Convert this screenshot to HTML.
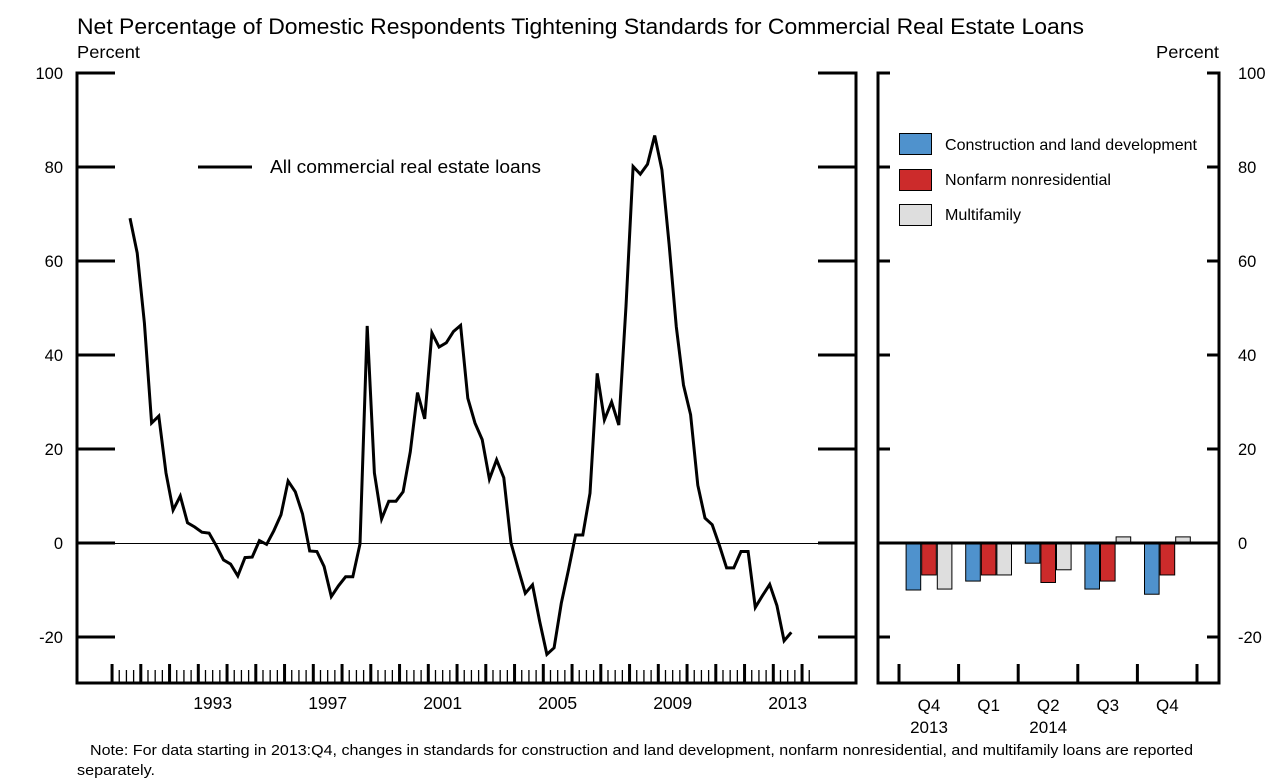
<!DOCTYPE html>
<html><head><meta charset="utf-8"><style>
body{margin:0;background:#fff;}
svg text{font-family:"Liberation Sans",Arial,sans-serif;fill:#000;}
</style></head><body>
<svg id="chart" width="1274" height="779" viewBox="0 0 1274 779" xmlns="http://www.w3.org/2000/svg">
<text x="77" y="34" font-size="22" textLength="1007" lengthAdjust="spacingAndGlyphs">Net Percentage of Domestic Respondents Tightening Standards for Commercial Real Estate Loans</text>
<text x="77" y="58" font-size="17.5" textLength="63" lengthAdjust="spacingAndGlyphs">Percent</text>
<text x="1156" y="58" font-size="17.5" textLength="63" lengthAdjust="spacingAndGlyphs">Percent</text>
<g id="axes"></g>
<g id="line-layer"></g>
<g id="bar-layer"></g>
<g>
<line x1="198" y1="167" x2="252" y2="167" stroke="#000" stroke-width="3"/>
<text x="270" y="173" font-size="18.5" textLength="271" lengthAdjust="spacingAndGlyphs">All commercial real estate loans</text>
</g>
<g>
<rect x="899.5" y="133.5" width="32" height="21" fill="#4F92CD" stroke="#000" stroke-width="1"/>
<text x="945" y="150" font-size="16" textLength="252" lengthAdjust="spacingAndGlyphs">Construction and land development</text>
<rect x="899.5" y="169.5" width="32" height="21" fill="#CC2B2B" stroke="#000" stroke-width="1"/>
<text x="945" y="185" font-size="16" textLength="166" lengthAdjust="spacingAndGlyphs">Nonfarm nonresidential</text>
<rect x="899.5" y="204.5" width="32" height="21" fill="#DEDEDE" stroke="#000" stroke-width="1"/>
<text x="945" y="220" font-size="16" textLength="76" lengthAdjust="spacingAndGlyphs">Multifamily</text>
</g>
<text font-size="15"><tspan x="90" y="755" textLength="1103" lengthAdjust="spacingAndGlyphs">Note: For data starting in 2013:Q4, changes in standards for construction and land development, nonfarm nonresidential, and multifamily loans are reported</tspan><tspan x="77" y="775" textLength="78" lengthAdjust="spacingAndGlyphs">separately.</tspan></text>
</svg>
<script>
const lineValues = [69.1,61.7,46.8,25.5,27,14.9,7,10,4.3,3.4,2.3,2.1,-0.6,-3.6,-4.5,-7,-3.1,-3,0.5,-0.3,2.6,6,13.2,10.9,6.2,-1.7,-1.8,-5,-11.4,-9.1,-7.2,-7.2,-0.2,46.2,14.9,
5.1,8.9,8.9,10.9,19.4,32,26.4,44.7,41.7,42.6,45,46.3,30.8,25.5,22,13.6,17.7,13.9,0,-5.4,-10.7,-8.9,-16.7,-23.7,-22.3,-12.8,-5.7,1.7,1.7,10.6,
36.1,26.2,30,25.1,50.4,80.1,78.5,80.6,86.7,79.4,63.6,46,33.6,27.3,12.3,5.3,3.9,-0.5,-5.3,-5.3,-1.8,-1.8,-13.7,-11.2,-8.8,-13.3,-20.8,-19];
const lineStartYear = 1990, lineStartQuarter = 3;
const yearLabels = [1993,1997,2001,2005,2009,2013];
const yTicks = [-20,0,20,40,60,80,100];
const barCategories = ["Q4","Q1","Q2","Q3","Q4"];
const barYearLabels = [["2013",0],["2014",2]];
const constructionValues = [-10,-8.1,-4.3,-9.8,-10.9];
const nonfarmValues = [-6.8,-6.8,-8.4,-8.1,-6.8];
const multifamilyValues = [-9.8,-6.8,-5.7,1.3,1.3];

const NS="http://www.w3.org/2000/svg";
function mk(tag, attrs, parent){const e=document.createElementNS(NS,tag);for(const k in attrs)e.setAttribute(k,attrs[k]);parent.appendChild(e);return e;}
const yScale = v => 543 - v*4.7;
const xTime = t => 428.3 + (t-2001)*28.75;
const axes=document.getElementById('axes');
const L=77,R=856,B=683,T=73, RL=878,RR=1219;
mk('line',{x1:L,y1:T-1.5,x2:L,y2:B,stroke:'#000','stroke-width':3},axes);
mk('line',{x1:R,y1:T-1.5,x2:R,y2:B,stroke:'#000','stroke-width':3},axes);
mk('line',{x1:L-1.5,y1:B,x2:R+1.5,y2:B,stroke:'#000','stroke-width':3},axes);
mk('line',{x1:RL,y1:T-1.5,x2:RL,y2:B,stroke:'#000','stroke-width':3},axes);
mk('line',{x1:RR,y1:T-1.5,x2:RR,y2:B,stroke:'#000','stroke-width':3},axes);
mk('line',{x1:RL-1.5,y1:B,x2:RR+1.5,y2:B,stroke:'#000','stroke-width':3},axes);
yTicks.forEach(v=>{
  const y=yScale(v);
  mk('line',{x1:L,y1:y,x2:L+38,y2:y,stroke:'#000','stroke-width':3},axes);
  mk('line',{x1:R-38,y1:y,x2:R,y2:y,stroke:'#000','stroke-width':3},axes);
  mk('line',{x1:RL,y1:y,x2:RL+12,y2:y,stroke:'#000','stroke-width':3},axes);
  mk('line',{x1:RR-12,y1:y,x2:RR,y2:y,stroke:'#000','stroke-width':3},axes);
  const t1=mk('text',{x:63,y:y+6,'font-size':16.5,'text-anchor':'end'},axes);t1.textContent=v;
  
  
  const t2=mk('text',{x:1238,y:y+6,'font-size':16.5},axes);t2.textContent=v;
  
  
});
mk('line',{x1:L,y1:yScale(0)+0.5,x2:R,y2:yScale(0)+0.5,stroke:'#000','stroke-width':1},axes);
for(let yr=1990; yr<=2014; yr++){
  for(let q=0;q<4;q++){
    const x=xTime(yr+q/4);
    if(x<L+20||x>R-45) continue;
    if(q===0) mk('line',{x1:x,y1:B,x2:x,y2:B-19,stroke:'#000','stroke-width':3},axes);
    else mk('line',{x1:x,y1:B,x2:x,y2:B-13,stroke:'#000','stroke-width':1.3},axes);
  }
}
yearLabels.forEach(yr=>{
  const t=mk('text',{x:xTime(yr+0.5),y:709,'font-size':17.5,'text-anchor':'middle'},axes);t.textContent=yr;
  
  
});
const pts=lineValues.map((v,i)=>{const t=lineStartYear+(lineStartQuarter-1)/4+0.125+i/4;return xTime(t).toFixed(1)+','+yScale(v).toFixed(1);});
const pl=mk('polyline',{points:pts.join(' '),fill:'none',stroke:'#000','stroke-width':3,'stroke-linejoin':'miter'},document.getElementById('line-layer'));


const bl=document.getElementById('bar-layer');
const groupX = i => 929 + i*59.6;
const bw=15.6;
const series=[[constructionValues,'#4F92CD','construction'],[nonfarmValues,'#CC2B2B','nonfarm'],[multifamilyValues,'#DEDEDE','multifamily']];
barCategories.forEach((c,i)=>{
  series.forEach((s,j)=>{
    const v=s[0][i]; const x=groupX(i)-1.5*bw+j*bw;
    const y0=yScale(0), y1=yScale(v);
    const r=mk('rect',{x:x+0.5,y:Math.min(y0,y1),width:bw-1,height:Math.abs(y1-y0),fill:s[1],stroke:'#000','stroke-width':1},bl);
    
    
  });
  const t=mk('text',{x:groupX(i),y:711,'font-size':17,'text-anchor':'middle'},bl);t.textContent=c;
  
  
});
barYearLabels.forEach(p=>{
  const t=mk('text',{x:groupX(p[1]),y:733,'font-size':17,'text-anchor':'middle'},bl);t.textContent=p[0];
  
  
});
for(let k=0;k<6;k++){const x=groupX(0)-30+k*59.6;mk('line',{x1:x,y1:B,x2:x,y2:B-19,stroke:'#000','stroke-width':3},bl);}
mk('line',{x1:RL,y1:yScale(0),x2:RR,y2:yScale(0),stroke:'#000','stroke-width':3},bl);
</script>
</body></html>
